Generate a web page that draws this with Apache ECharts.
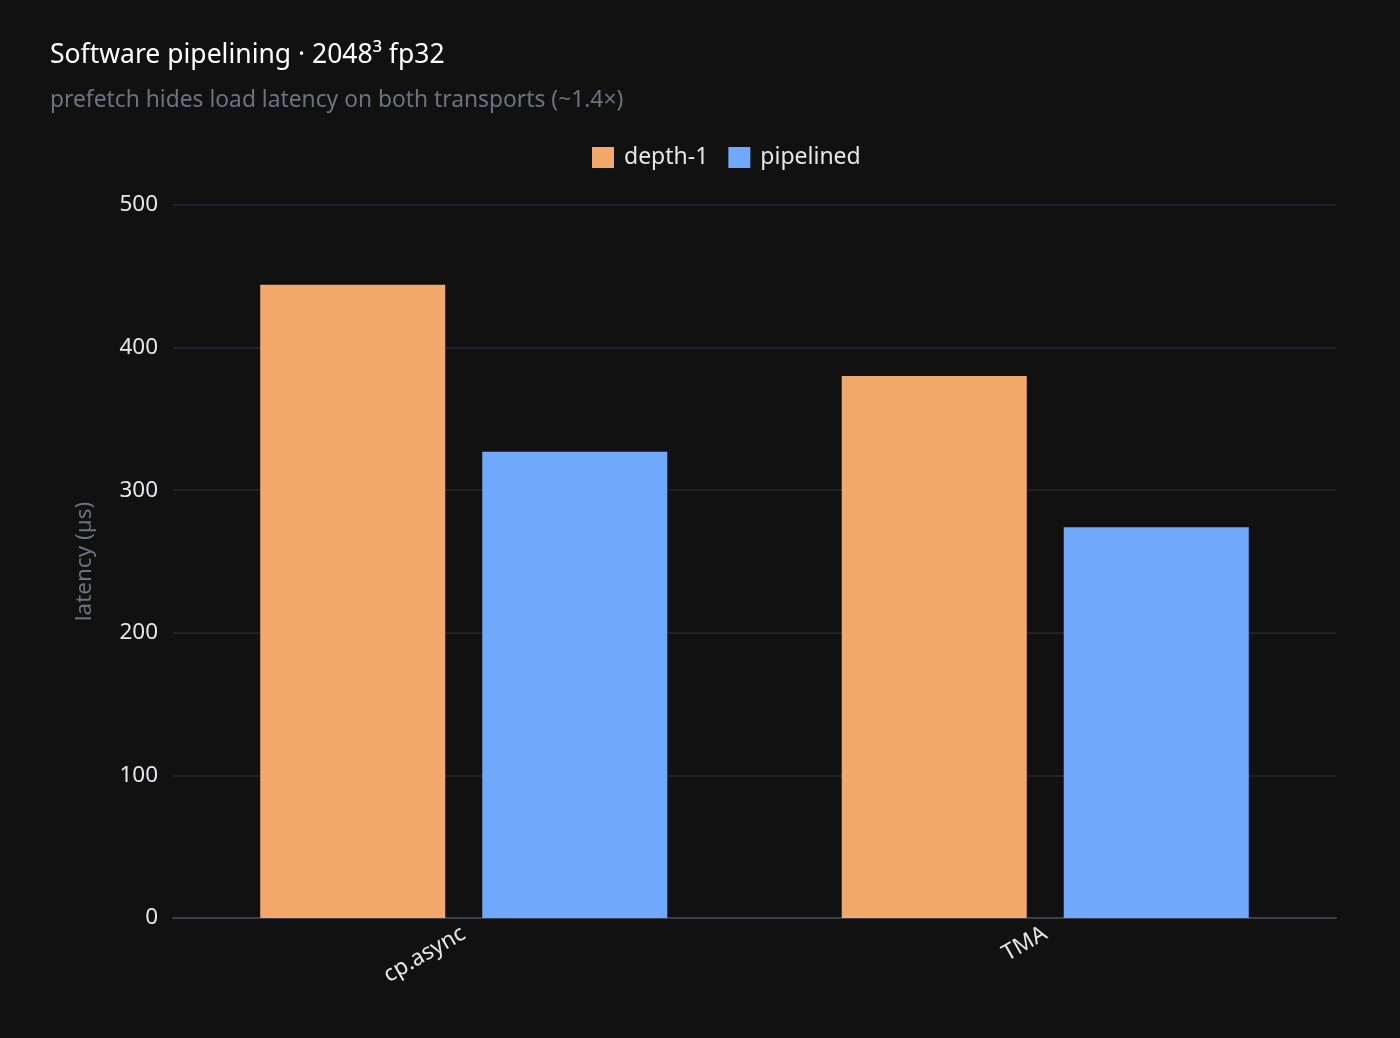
<!DOCTYPE html>
<html><head><meta charset="utf-8">
<script src="https://cdn.jsdelivr.net/npm/echarts@6/dist/echarts.min.js"></script>
<style>html,body{margin:0;padding:0;background:#111111;}#c{width:1400px;height:1038px;}</style>
</head><body><div id="c"></div>
<script>
const categories = ['cp.async', 'TMA'];
const depth1 = [444, 380];
const pipelined = [327, 274];
const yTicks = [0, 100, 200, 300, 400, 500];

const chart = echarts.init(document.getElementById('c'));
chart.setOption({
  backgroundColor: '#111111',
  textStyle: { fontFamily: 'Noto Sans' },
  title: {
    text: 'Software pipelining · 2048³ fp32',
    subtext: 'prefetch hides load latency on both transports (~1.4×)',
    left: 45, top: 37,
    textStyle: { color: '#ffffff', fontSize: 26.5, fontWeight: 'normal', fontFamily: 'Noto Sans' },
    subtextStyle: { color: '#6b7280', fontSize: 22.8, fontFamily: 'Noto Sans' },
    itemGap: 20
  },
  legend: {
    top: 141, left: 587,
    itemWidth: 22, itemHeight: 21, itemGap: 20,
    icon: 'rect',
    textStyle: { color: '#e5e7eb', fontSize: 23, padding: [0, 0, 0, 5] },
    data: ['depth-1', 'pipelined']
  },
  grid: { left: 173, right: 64, top: 205, bottom: 120, containLabel: false },
  xAxis: {
    type: 'category', data: categories,
    axisLine: { lineStyle: { color: '#3a3f4b', width: 2 } },
    axisTick: { show: false },
    axisLabel: { color: '#e5e7eb', fontSize: 22.5, rotate: 30, margin: 14 }
  },
  yAxis: {
    type: 'value', min: 0, max: 500, interval: 100,
    name: 'latency (µs)', nameLocation: 'middle', nameGap: 77,
    nameTextStyle: { color: '#6b7280', fontSize: 22.5 },
    axisLabel: { color: '#e5e7eb', fontSize: 22.5, margin: 15,
      formatter: v => yTicks.includes(v) ? String(v) : '' },
    splitLine: { lineStyle: { color: '#252936', width: 1.5 } },
    axisLine: { show: false }, axisTick: { show: false }
  },
  series: [
    { name: 'depth-1', type: 'bar', data: depth1, barGap: '20%', barCategoryGap: '30%',
      itemStyle: { color: '#F4A96C' } },
    { name: 'pipelined', type: 'bar', data: pipelined,
      itemStyle: { color: '#70A8FC' } }
  ]
});
</script></body></html>
